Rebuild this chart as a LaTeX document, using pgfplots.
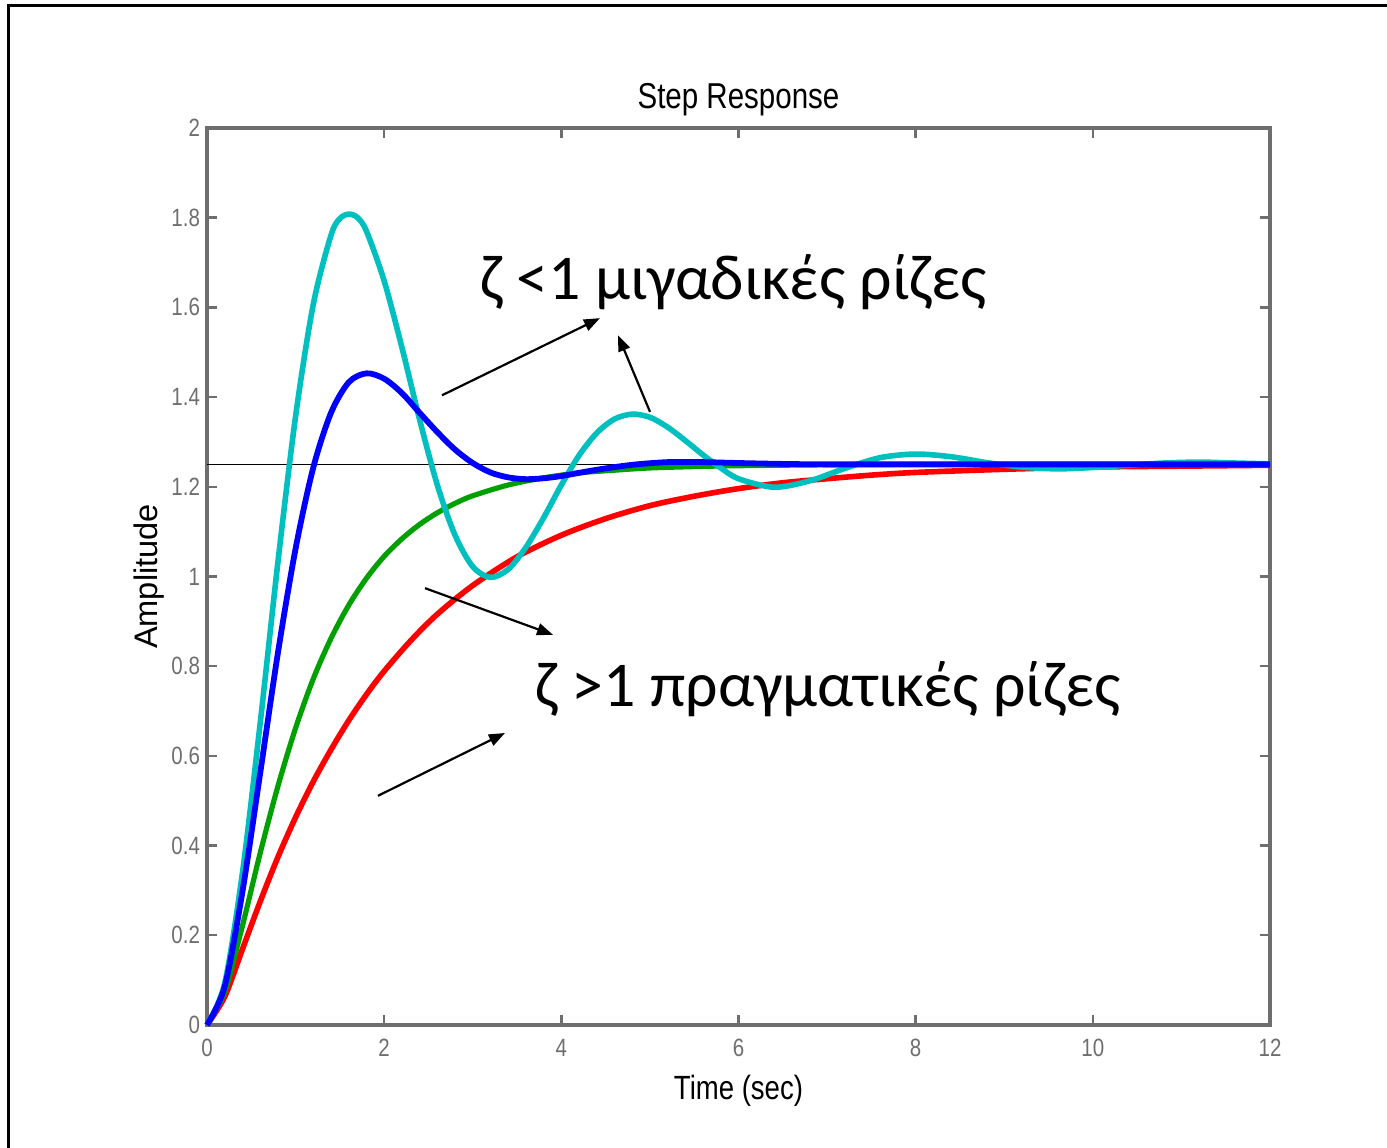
\documentclass[border=0pt]{standalone}
\usepackage{fontspec}
\setmainfont{Liberation Sans}
\newfontfamily\narrowfont[FakeStretch=0.82]{Liberation Sans}
\newfontfamily\calfont{Carlito}
\usepackage{pgfplots}
\pgfplotsset{compat=1.18}
\usetikzlibrary{arrows.meta}
\definecolor{axgray}{RGB}{110,110,110}
\definecolor{mcyan}{RGB}{0,191,191}
\definecolor{mgreen}{RGB}{0,160,0}
\begin{document}
\begin{tikzpicture}
\path[use as bounding box] (0,0) rectangle (693.5bp,574bp);
% outer frame (only left and top edges are inside the picture)
\draw[line width=1.5bp] (4bp,0) -- (4bp,571bp) -- (693.5bp,571bp);
\begin{axis}[
  at={(103.5bp,61.5bp)}, anchor=south west,
  scale only axis, width=531.5bp, height=448.5bp,
  xmin=0, xmax=12, ymin=0, ymax=2,
  xtick={0,2,4,6,8,10,12},
  ytick={0,0.2,0.4,0.6,0.8,1,1.2,1.4,1.6,1.8,2},
  yticklabels={0,0.2,0.4,0.6,0.8,1,1.2,1.4,1.6,1.8,2},
  xticklabels={0,2,4,6,8,10,12},
  tick align=inside, major tick length=5bp,
  axis line style={axgray, line width=1.75bp},
  tick style={axgray, line width=1.2bp},
  /pgf/number format/assume math mode=true,
  tick label style={font=\narrowfont\fontsize{12.5bp}{14bp}\selectfont, text=axgray},
  xticklabel style={yshift=-3.5bp},
  title={Step Response},
  title style={font=\narrowfont\fontsize{18bp}{20bp}\selectfont, at={(axis description cs:0.5,1.018)}, anchor=center},
  xlabel={Time (sec)},
  xlabel style={font=\narrowfont\fontsize{16.8bp}{18bp}\selectfont, at={(axis description cs:0.5,-0.0735)}, anchor=center},
  ylabel={Amplitude},
  ylabel style={font=\fontsize{16.3bp}{18bp}\selectfont, at={(axis description cs:-0.0545,0.5)}, anchor=center},
  clip=false,
]
% final value reference
\addplot[black, line width=0.5bp] coordinates {(0,1.25) (12,1.25)};
% zeta = 2
\addplot[red, line width=2.8bp, smooth] coordinates {
  (0,0) (0.2,0.063) (0.4,0.169) (0.6,0.275) (0.8,0.374) (1.0,0.463)
  (1.2,0.543) (1.4,0.614) (1.6,0.679) (1.8,0.737) (2.0,0.789) (2.3,0.857)
  (2.6,0.916) (3.0,0.980) (3.5,1.044) (4.0,1.092) (4.5,1.129) (5.0,1.158)
  (5.5,1.179) (6.0,1.196) (6.5,1.209) (7.0,1.218) (7.5,1.226) (8.0,1.232)
  (9.0,1.239) (10.0,1.244) (11.0,1.246) (12.0,1.248)
};
% zeta = 1.2
\addplot[mgreen, line width=2.6bp, smooth] coordinates {
  (0,0) (0.2,0.074) (0.4,0.221) (0.6,0.383) (0.8,0.532) (1.0,0.662)
  (1.2,0.772) (1.4,0.862) (1.6,0.936) (1.8,0.996) (2.0,1.045) (2.2,1.084)
  (2.4,1.116) (2.6,1.142) (2.8,1.163) (3.0,1.180) (3.4,1.204) (3.8,1.220)
  (4.2,1.231) (4.6,1.237) (5.0,1.242) (5.5,1.245) (6.0,1.247) (7.0,1.249)
  (8.0,1.250) (12.0,1.250)
};
% zeta = 0.25
\addplot[mcyan, line width=2.8bp, smooth] coordinates {
  (0,0) (0.2,0.093) (0.4,0.339) (0.6,0.672) (0.8,1.031) (1.0,1.357)
  (1.2,1.607) (1.4,1.761) (1.5,1.798) (1.6,1.808) (1.7,1.800) (1.8,1.770)
  (2.0,1.659) (2.2,1.511)
  (2.4,1.350) (2.6,1.204) (2.8,1.092) (3.0,1.022) (3.2,0.998) (3.4,1.016)
  (3.6,1.065) (3.8,1.131) (4.0,1.204) (4.2,1.270) (4.4,1.320) (4.6,1.351)
  (4.8,1.362) (5.0,1.355) (5.2,1.333) (5.4,1.303) (5.6,1.271) (5.8,1.242)
  (6.0,1.218) (6.4,1.199) (6.8,1.213) (7.2,1.241) (7.6,1.265) (8.0,1.273)
  (8.4,1.267) (8.8,1.254) (9.2,1.244) (9.6,1.240) (10.0,1.243) (10.4,1.248)
  (10.8,1.253) (11.2,1.255) (11.6,1.253) (12.0,1.251)
};
% zeta = 0.5
\addplot[blue, line width=2.9bp, smooth] coordinates {
  (0,0) (0.2,0.086) (0.4,0.297) (0.6,0.561) (0.8,0.829) (1.0,1.062)
  (1.2,1.243) (1.4,1.365) (1.6,1.433) (1.8,1.453) (2.0,1.441) (2.2,1.409)
  (2.4,1.365) (2.6,1.322) (2.8,1.283) (3.0,1.253) (3.2,1.232) (3.4,1.221)
  (3.6,1.217) (3.8,1.219) (4.0,1.224) (4.4,1.238) (4.8,1.249) (5.2,1.255)
  (5.6,1.255) (6.0,1.253) (6.5,1.251) (7.0,1.250) (8.0,1.250) (12.0,1.250)
};
% annotations
\node[anchor=base west, inner sep=0pt, font=\calfont\fontsize{31.9bp}{36bp}\selectfont]
  at (axis cs:3.08,1.617) {ζ <1 μιγαδικές ρίζες};
\node[anchor=base west, inner sep=0pt, font=\calfont\fontsize{31.9bp}{36bp}\selectfont]
  at (axis cs:3.70,0.711) {ζ >1 πραγματικές ρίζες};
\draw[-{Triangle[length=8bp,width=6bp]}, line width=1.1bp] (axis cs:2.653,1.404) -- (axis cs:4.436,1.576);
\draw[-{Triangle[length=8bp,width=6bp]}, line width=1.1bp] (axis cs:5.001,1.367) -- (axis cs:4.640,1.538);
\draw[-{Triangle[length=8bp,width=6bp]}, line width=1.1bp] (axis cs:2.461,0.974) -- (axis cs:3.906,0.870);
\draw[-{Triangle[length=8bp,width=6bp]}, line width=1.1bp] (axis cs:1.930,0.511) -- (axis cs:3.364,0.651);
\end{axis}
\end{tikzpicture}
\end{document}
